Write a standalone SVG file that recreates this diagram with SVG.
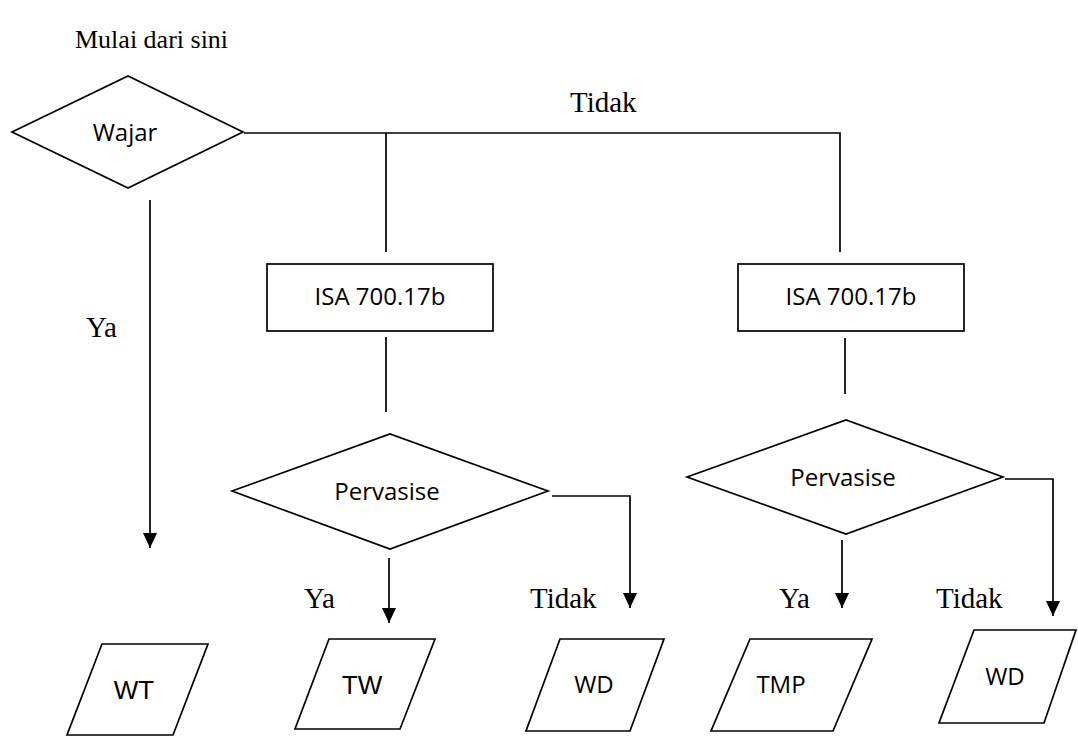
<svg xmlns="http://www.w3.org/2000/svg" width="1078" height="736" viewBox="0 0 1078 736">
<style>
.shape{fill:#fff;stroke:#000;stroke-width:1.7}
.line{fill:none;stroke:#000;stroke-width:1.7}
.serif{font-family:"Liberation Serif","Times New Roman",serif;font-size:29px;fill:#000}
.sans{font-family:"Open Sans","Liberation Sans",sans-serif;font-size:24px;fill:#000;text-anchor:middle}
.ar{font-family:"Liberation Sans",Arial,sans-serif;font-size:26px;fill:#000;text-anchor:middle}
</style>
<defs>
<marker id="arr" markerWidth="15" markerHeight="14" refX="15" refY="7" orient="auto" markerUnits="userSpaceOnUse" viewBox="0 0 15 14">
<path d="M0,0 L15,7 L0,14 Z" fill="#000"/>
</marker>
</defs>
<text class="serif" x="75" y="48" style="font-size:26px">Mulai dari sini</text>
<g id="connectors">
<polyline class="line" points="244,133 840,133 840,252"/>
<line class="line" x1="386" y1="133" x2="386" y2="252"/>
<line class="line" x1="386" y1="337" x2="386" y2="412"/>
<line class="line" x1="845" y1="338" x2="845" y2="394"/>
<line class="line" x1="150" y1="200" x2="150" y2="548" marker-end="url(#arr)"/>
<line class="line" x1="389" y1="558" x2="389" y2="623" marker-end="url(#arr)"/>
<polyline class="line" points="552,496 630,496 630,608" marker-end="url(#arr)"/>
<line class="line" x1="842" y1="540" x2="842" y2="608" marker-end="url(#arr)"/>
<polyline class="line" points="1005,479 1053,479 1053,616" marker-end="url(#arr)"/>
</g>
<text class="serif" x="570" y="112">Tidak</text>
<text class="serif" x="86" y="337">Ya</text>
<text class="serif" x="304" y="608">Ya</text>
<text class="serif" x="530" y="608">Tidak</text>
<text class="serif" x="779" y="608">Ya</text>
<text class="serif" x="936" y="608">Tidak</text>
<g id="wajar">
<polygon class="shape" points="12,132 128,76 243,132 128,188"/>
<text class="sans" x="125" y="141">Wajar</text>
</g>
<g id="isa1">
<rect class="shape" x="267" y="264" width="226" height="67"/>
<text class="sans" x="380" y="305">ISA 700.17b</text>
</g>
<g id="isa2">
<rect class="shape" x="738" y="264" width="226" height="67"/>
<text class="sans" x="851" y="305">ISA 700.17b</text>
</g>
<g id="pervasise1">
<polygon class="shape" points="232,491 390,434 548,491 390,549"/>
<text class="sans" x="387" y="500">Pervasise</text>
</g>
<g id="pervasise2">
<polygon class="shape" points="687,477 846,420 1003,477 846,534"/>
<text class="sans" x="843" y="486">Pervasise</text>
</g>
<g id="wt">
<polygon class="shape" points="102,644 208,644 173,735 67,735"/>
<text class="ar" x="134" y="699">WT</text>
</g>
<g id="tw">
<polygon class="shape" points="329,639 435,639 400,729 295,729"/>
<text class="ar" x="362" y="694">TW</text>
</g>
<g id="wd1">
<polygon class="shape" points="560,639 664,639 630,731 526,731"/>
<text class="sans" x="594" y="693">WD</text>
</g>
<g id="tmp">
<polygon class="shape" points="750,639 872,639 833,731 711,731"/>
<text class="sans" x="781" y="693">TMP</text>
</g>
<g id="wd2">
<polygon class="shape" points="974,630 1076,630 1044,723 939,723"/>
<text class="sans" x="1005" y="685">WD</text>
</g>
</svg>
